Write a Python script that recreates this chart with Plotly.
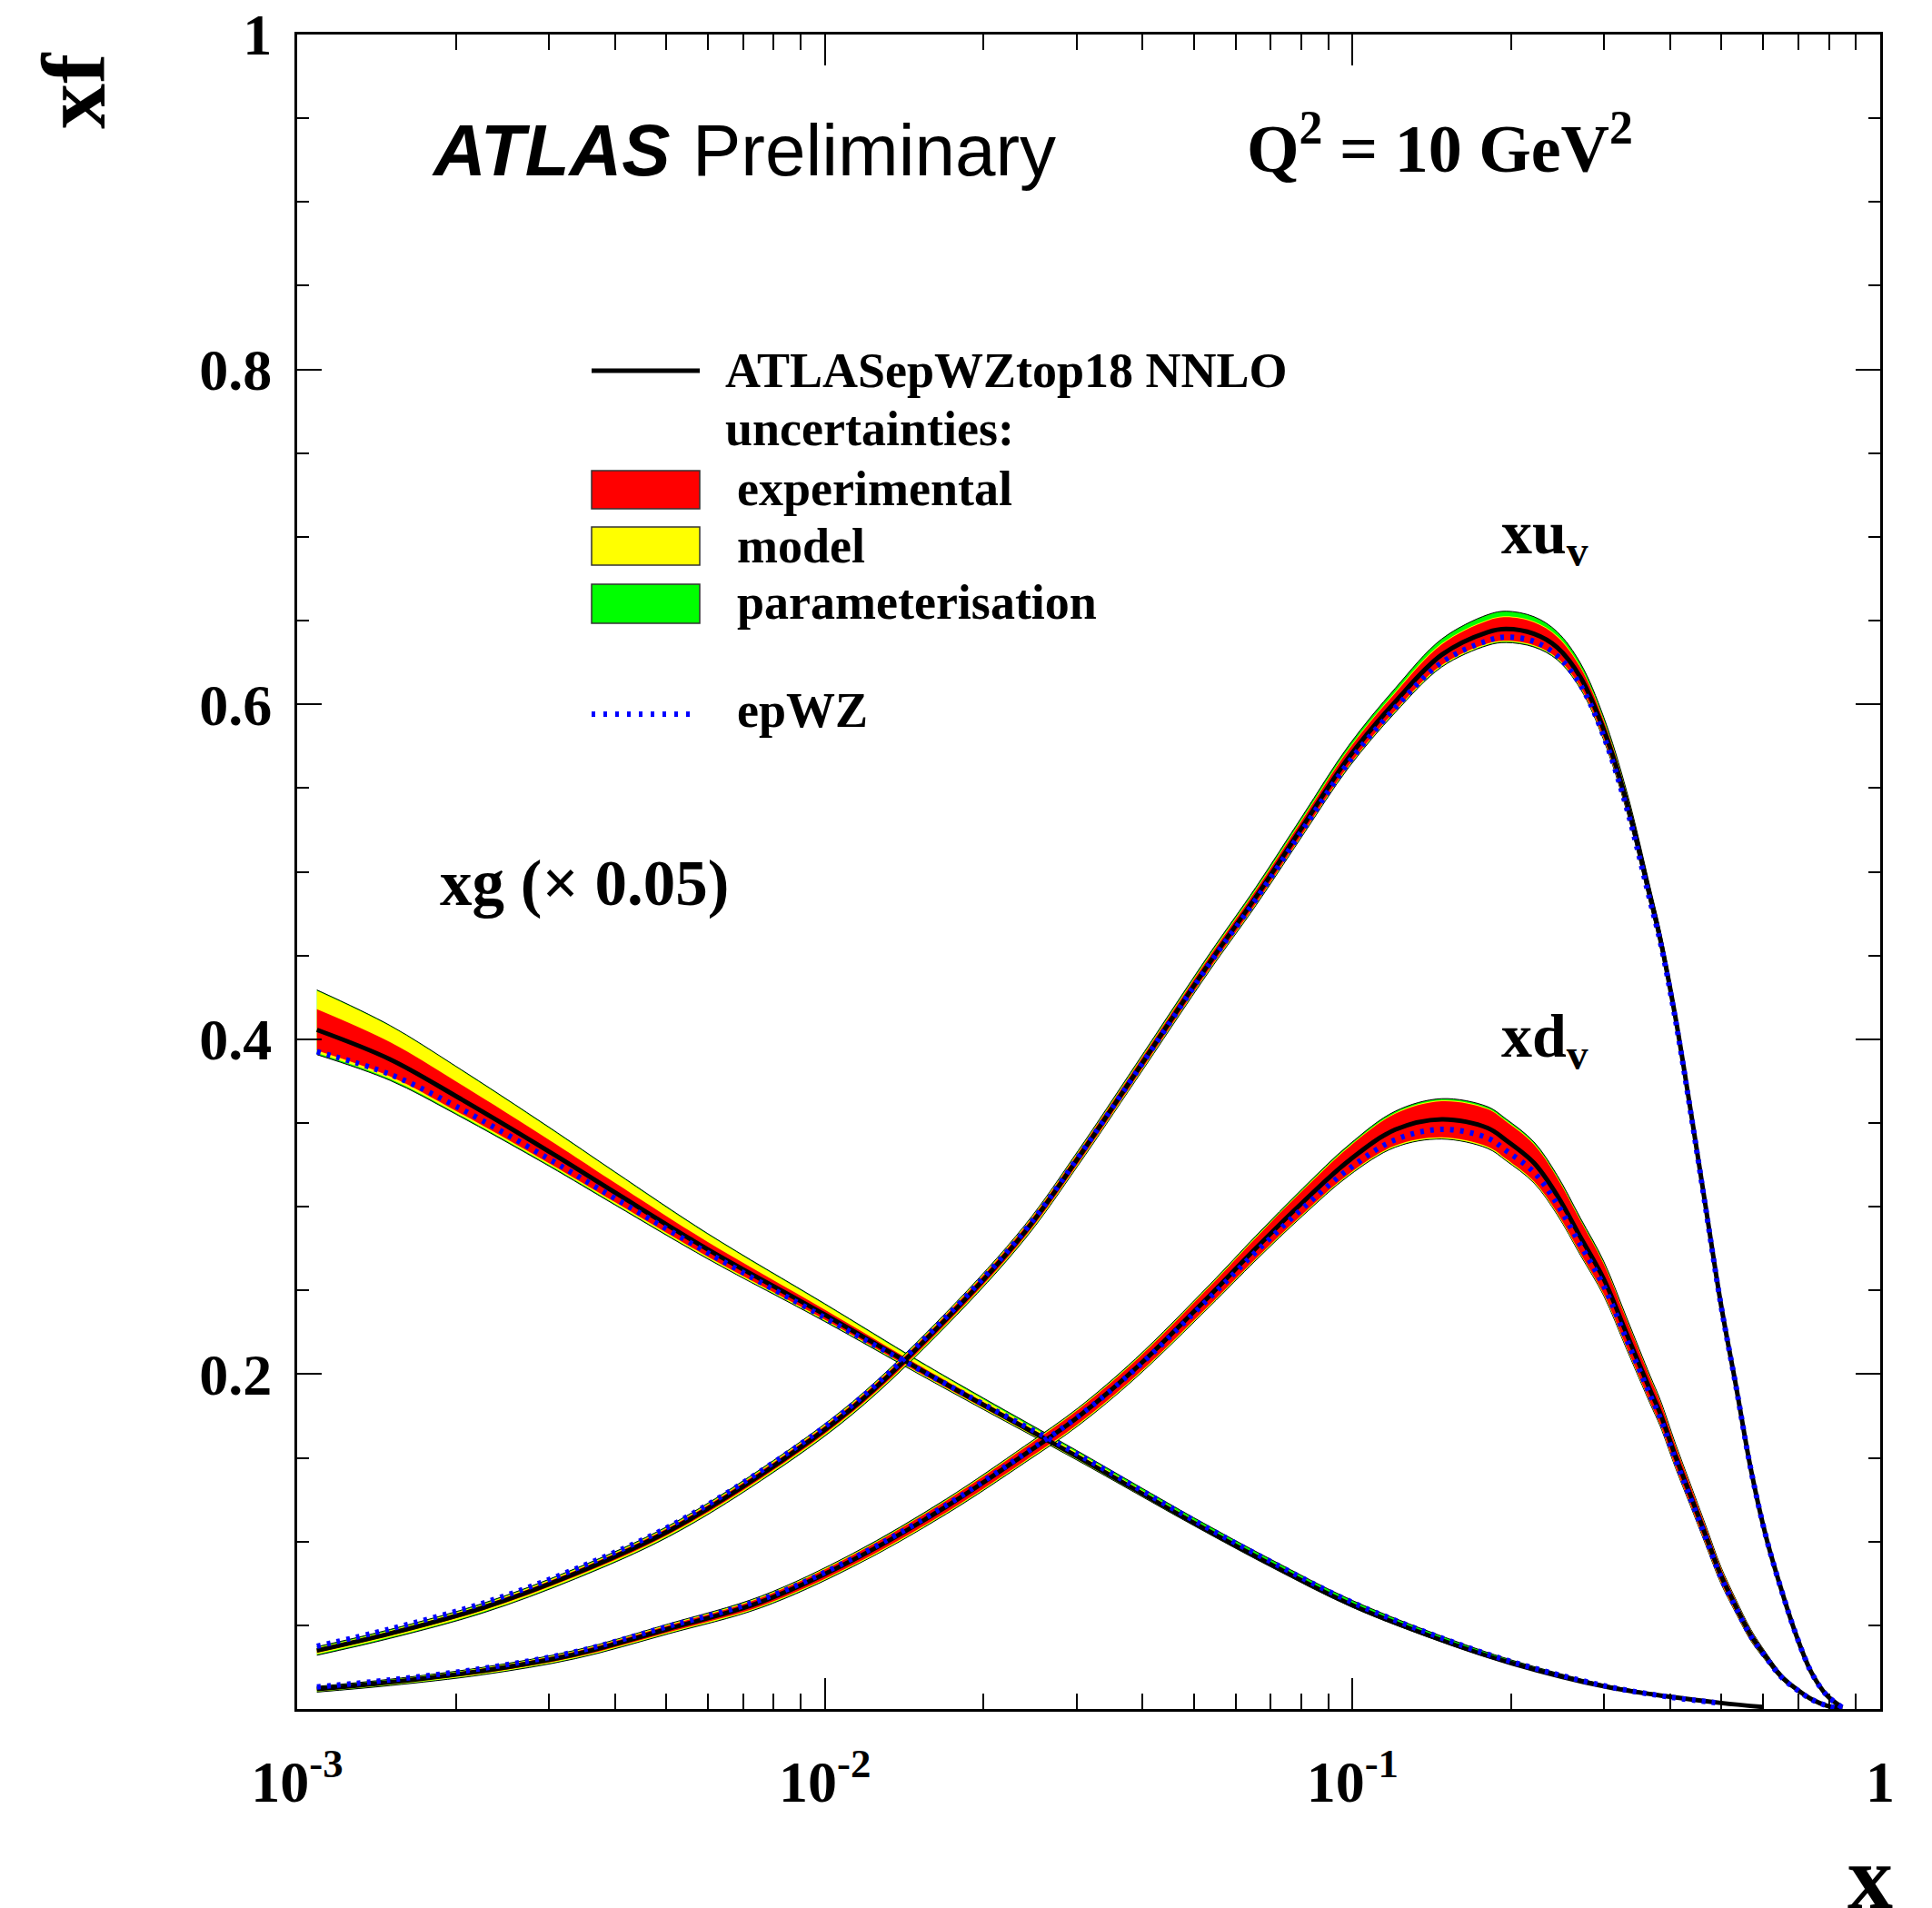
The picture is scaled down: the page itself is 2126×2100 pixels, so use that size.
import plotly.graph_objects as go

# ---------------- data ----------------
# gluon (scaled by 0.05)
xg_x = [0.00109, 0.0015, 0.002, 0.003, 0.004, 0.006, 0.01, 0.015, 0.02, 0.03,
        0.05, 0.07, 0.1, 0.15, 0.2, 0.3, 0.4, 0.5, 0.6]
xg_central = [0.4056, 0.388, 0.366, 0.333, 0.3085, 0.2745, 0.2355, 0.2035, 0.1815, 0.151,
              0.1112, 0.0864, 0.062, 0.0403, 0.0274, 0.0135, 0.0073, 0.0036, 0.0012]
xg_epwz = [0.3926, 0.379, 0.360, 0.3285, 0.305, 0.2725, 0.2337, 0.2032, 0.182, 0.1525,
           0.1127, 0.088, 0.0636, 0.0416, 0.0283, 0.0139, 0.0071, 0.0034, None]
xg_exp = [0.0123, 0.0102, 0.0088, 0.0070, 0.0058, 0.0044, 0.0030, 0.0022, 0.0018, 0.0014,
          0.0010, 0.0009, 0.0008, 0.0006, 0.0005, 0.0003, 0.0002, 0.0001, 0.0001]
xg_mod_up = [0.0110, 0.0095, 0.0085, 0.0070, 0.0060, 0.0045, 0.0030, 0.0020, 0.0015, 0.0010,
             0.0006, 0.0005, 0.0004, 0.0003, 0.0002, 0.0001, 0.0001, 0.0, 0.0]
xg_mod_dn = [0.0015, 0.0015, 0.0012, 0.0010, 0.0010, 0.0008, 0.0006, 0.0005, 0.0005, 0.0004,
             0.0003, 0.0003, 0.0002, 0.0002, 0.0001, 0.0001, 0.0, 0.0, 0.0]
xg_par_up = [0.0005, 0.0005, 0.0005, 0.0005, 0.0005, 0.0005, 0.0005, 0.0006, 0.0008, 0.0010,
             0.0015, 0.0016, 0.0016, 0.0015, 0.0012, 0.0008, 0.0004, 0.0002, 0.0001]
xg_par_dn = [0.0010, 0.0009, 0.0008, 0.0007, 0.0006, 0.0005, 0.0005, 0.0004, 0.0004, 0.0004,
             0.0003, 0.0003, 0.0003, 0.0002, 0.0002, 0.0001, 0.0001, 0.0, 0.0]

# valence quarks
xv_x = [0.00109, 0.0015, 0.00225, 0.00337, 0.00505, 0.00757, 0.0113, 0.017, 0.0239, 0.0302,
        0.0388, 0.0536, 0.0656, 0.0804, 0.0984, 0.1205, 0.1476, 0.1803, 0.1954, 0.2208,
        0.2443, 0.2704, 0.2992, 0.3311, 0.3664, 0.3828, 0.4093, 0.4365, 0.4667, 0.4989,
        0.5333, 0.5689, 0.6081, 0.6501, 0.6934, 0.7413, 0.7925, 0.8472]

xuv_central = [0.0349, 0.0451, 0.0605, 0.081, 0.1062, 0.140, 0.180, 0.233, 0.2846, 0.329,
               0.3798, 0.4458, 0.485, 0.527, 0.5683, 0.6015, 0.6296, 0.6431, 0.645, 0.6421,
               0.634, 0.6161, 0.585, 0.5413, 0.4852, 0.4602, 0.4129, 0.359, 0.3004, 0.242,
               0.1925, 0.143, 0.1025, 0.071, 0.044, 0.0216, 0.0081, 0.001]
xuv_epwz = [0.0375, 0.0478, 0.0632, 0.0837, 0.1087, 0.1422, 0.1818, 0.2343, 0.2855, 0.3295,
            0.3795, 0.445, 0.4835, 0.525, 0.5655, 0.598, 0.625, 0.638, 0.6402, 0.6375,
            0.629, 0.6115, 0.581, 0.5375, 0.4825, 0.4585, 0.4115, 0.358, 0.2995, 0.2415,
            0.1922, 0.1428, 0.1024, 0.0709, 0.044, 0.0216, 0.0081, 0.001]
xuv_exp = [0.0012, 0.0013, 0.0015, 0.0018, 0.0020, 0.0023, 0.0025, 0.0028, 0.0030, 0.0032,
           0.0034, 0.0037, 0.0040, 0.0043, 0.0048, 0.0053, 0.0062, 0.0068, 0.0070, 0.0068,
           0.0063, 0.0058, 0.0052, 0.0046, 0.0040, 0.0037, 0.0034, 0.0030, 0.0026, 0.0022,
           0.0018, 0.0014, 0.0010, 0.0007, 0.0004, 0.0002, 0.0001, 0.0]
xuv_mod_up = [0.0006, 0.0006, 0.0006, 0.0006, 0.0006, 0.0006, 0.0006, 0.0006, 0.0006, 0.0006,
              0.0006, 0.0006, 0.0006, 0.0006, 0.0006, 0.0006, 0.0006, 0.0006, 0.0006, 0.0006,
              0.0006, 0.0006, 0.0006, 0.0005, 0.0005, 0.0005, 0.0005, 0.0005, 0.0004, 0.0004,
              0.0003, 0.0003, 0.0002, 0.0002, 0.0001, 0.0001, 0.0, 0.0]
xuv_mod_dn = [0.0010, 0.0010, 0.0010, 0.0009, 0.0009, 0.0008, 0.0008, 0.0007, 0.0007, 0.0006,
              0.0006, 0.0006, 0.0006, 0.0006, 0.0006, 0.0006, 0.0006, 0.0006, 0.0006, 0.0006,
              0.0006, 0.0006, 0.0006, 0.0005, 0.0005, 0.0005, 0.0005, 0.0005, 0.0004, 0.0004,
              0.0003, 0.0003, 0.0002, 0.0002, 0.0001, 0.0001, 0.0, 0.0]
xuv_par_up = [0.0005, 0.0005, 0.0005, 0.0005, 0.0005, 0.0005, 0.0005, 0.0005, 0.0005, 0.0006,
              0.0008, 0.0010, 0.0012, 0.0015, 0.0018, 0.0022, 0.0026, 0.0030, 0.0030, 0.0028,
              0.0024, 0.0020, 0.0016, 0.0012, 0.0010, 0.0008, 0.0007, 0.0006, 0.0005, 0.0004,
              0.0003, 0.0003, 0.0002, 0.0002, 0.0001, 0.0001, 0.0, 0.0]
xuv_par_dn = [0.0006, 0.0006, 0.0006, 0.0005, 0.0005, 0.0005, 0.0005, 0.0005, 0.0005, 0.0005,
              0.0005, 0.0005, 0.0005, 0.0005, 0.0005, 0.0005, 0.0005, 0.0005, 0.0005, 0.0005,
              0.0005, 0.0005, 0.0005, 0.0004, 0.0004, 0.0004, 0.0004, 0.0004, 0.0003, 0.0003,
              0.0003, 0.0002, 0.0002, 0.0001, 0.0001, 0.0001, 0.0, 0.0]

xdv_central = [0.0119, 0.016, 0.0228, 0.0327, 0.0479, 0.064, 0.089, 0.121, 0.152, 0.1745,
               0.2034, 0.2468, 0.2752, 0.3025, 0.3275, 0.346, 0.3522, 0.347, 0.3397, 0.3261,
               0.3067, 0.2818, 0.2569, 0.2237, 0.1905, 0.1767, 0.151, 0.128, 0.104, 0.080,
               0.061, 0.044, 0.031, 0.0193, 0.012, 0.0058, 0.002, 0.0003]
xdv_epwz = [0.0132, 0.0174, 0.0243, 0.0342, 0.0494, 0.0653, 0.090, 0.1218, 0.1525, 0.1747,
            0.2031, 0.2456, 0.2730, 0.2990, 0.3225, 0.340, 0.3462, 0.341, 0.3335, 0.3205,
            0.3015, 0.2772, 0.2528, 0.2202, 0.1875, 0.174, 0.149, 0.1262, 0.1025, 0.0788,
            0.0602, 0.0434, 0.0306, 0.019, 0.0118, 0.0057, 0.002, 0.0003]
xdv_exp = [0.0008, 0.0010, 0.0013, 0.0016, 0.0020, 0.0025, 0.0030, 0.0035, 0.0040, 0.0043,
           0.0047, 0.0055, 0.0062, 0.0070, 0.0080, 0.0095, 0.0108, 0.0112, 0.0112, 0.0110,
           0.0105, 0.0098, 0.0090, 0.0082, 0.0072, 0.0068, 0.0062, 0.0056, 0.0050, 0.0042,
           0.0035, 0.0028, 0.0020, 0.0014, 0.0009, 0.0005, 0.0002, 0.0001]
xdv_mod_up = [0.0004, 0.0004, 0.0004, 0.0004, 0.0005, 0.0005, 0.0005, 0.0005, 0.0005, 0.0005,
              0.0005, 0.0005, 0.0005, 0.0005, 0.0005, 0.0005, 0.0005, 0.0005, 0.0005, 0.0005,
              0.0005, 0.0005, 0.0005, 0.0005, 0.0005, 0.0005, 0.0005, 0.0004, 0.0004, 0.0004,
              0.0003, 0.0003, 0.0002, 0.0002, 0.0001, 0.0001, 0.0, 0.0]
xdv_mod_dn = [0.0006, 0.0006, 0.0006, 0.0006, 0.0006, 0.0006, 0.0006, 0.0006, 0.0006, 0.0006,
              0.0006, 0.0006, 0.0006, 0.0006, 0.0006, 0.0006, 0.0006, 0.0006, 0.0006, 0.0006,
              0.0006, 0.0006, 0.0006, 0.0006, 0.0005, 0.0005, 0.0005, 0.0004, 0.0004, 0.0004,
              0.0003, 0.0003, 0.0002, 0.0002, 0.0001, 0.0001, 0.0, 0.0]
xdv_par_up = [0.0004, 0.0004, 0.0004, 0.0004, 0.0004, 0.0004, 0.0004, 0.0005, 0.0005, 0.0005,
              0.0006, 0.0006, 0.0007, 0.0008, 0.0009, 0.0010, 0.0010, 0.0010, 0.0010, 0.0010,
              0.0010, 0.0010, 0.0010, 0.0009, 0.0008, 0.0008, 0.0007, 0.0006, 0.0005, 0.0004,
              0.0003, 0.0003, 0.0002, 0.0002, 0.0001, 0.0001, 0.0, 0.0]
xdv_par_dn = [0.0004, 0.0004, 0.0004, 0.0004, 0.0004, 0.0004, 0.0004, 0.0004, 0.0004, 0.0004,
              0.0004, 0.0004, 0.0004, 0.0004, 0.0004, 0.0004, 0.0004, 0.0004, 0.0004, 0.0004,
              0.0004, 0.0004, 0.0004, 0.0004, 0.0004, 0.0004, 0.0003, 0.0003, 0.0003, 0.0003,
              0.0002, 0.0002, 0.0002, 0.0001, 0.0001, 0.0001, 0.0, 0.0]

x_tick_vals = [0.001, 0.01, 0.1, 1]
x_tick_text = ['10<sup>-3</sup>', '10<sup>-2</sup>', '10<sup>-1</sup>', '1']
x_minor_vals = [m * d for d in (0.001, 0.01, 0.1) for m in range(2, 10)]
y_tick_vals = [0.2, 0.4, 0.6, 0.8, 1.0]
y_tick_text = ['0.2', '0.4', '0.6', '0.8', '1']
y_minor_vals = [round(0.05 * i, 2) for i in range(1, 20) if i % 4 != 0]

# ---------------- layout geometry (pixels) ----------------
W, H = 2126, 2100
ML, MR, MT, MB = 327, 57, 38, 219
PW = W - ML - MR
PH = H - MT - MB


def px(x):
    return (x - ML) / PW


def py(y):
    return (H - MB - y) / PH


RED = '#ff0000'
YEL = '#ffff00'
GRN = '#00ff00'
BLUE = '#0000ff'
SERIF = 'Liberation Serif'
SANS = 'Liberation Sans'

fig = go.Figure()


def add_band(xs, lo, hi, col, edge):
    lw = 1 if edge else 0
    lc = 'black' if edge else col
    fig.add_trace(go.Scatter(x=xs, y=lo, mode='lines',
                             line=dict(color=lc, width=lw, shape='spline', smoothing=1),
                             hoverinfo='skip', showlegend=False))
    fig.add_trace(go.Scatter(x=xs, y=hi, mode='lines', fill='tonexty', fillcolor=col,
                             line=dict(color=lc, width=lw, shape='spline', smoothing=1),
                             hoverinfo='skip', showlegend=False))


def add_bands(xs, c, e, mu, md, pu, pd):
    exp_hi = [a + b for a, b in zip(c, e)]
    exp_lo = [a - b for a, b in zip(c, e)]
    mod_hi = [a + b for a, b in zip(exp_hi, mu)]
    mod_lo = [a - b for a, b in zip(exp_lo, md)]
    tot_hi = [a + b for a, b in zip(mod_hi, pu)]
    tot_lo = [a - b for a, b in zip(mod_lo, pd)]
    add_band(xs, tot_lo, tot_hi, GRN, True)
    add_band(xs, mod_lo, mod_hi, YEL, False)
    add_band(xs, exp_lo, exp_hi, RED, False)


add_bands(xg_x, xg_central, xg_exp, xg_mod_up, xg_mod_dn, xg_par_up, xg_par_dn)
add_bands(xv_x, xuv_central, xuv_exp, xuv_mod_up, xuv_mod_dn, xuv_par_up, xuv_par_dn)
add_bands(xv_x, xdv_central, xdv_exp, xdv_mod_up, xdv_mod_dn, xdv_par_up, xdv_par_dn)

for xs, ys in ((xg_x, xg_central), (xv_x, xuv_central), (xv_x, xdv_central)):
    fig.add_trace(go.Scatter(x=xs, y=ys, mode='lines',
                             line=dict(color='black', width=5, shape='spline', smoothing=1),
                             hoverinfo='skip', showlegend=False))

for xs, ys in ((xg_x, xg_epwz), (xv_x, xuv_epwz), (xv_x, xdv_epwz)):
    fig.add_trace(go.Scatter(x=xs, y=ys, mode='lines',
                             line=dict(color=BLUE, width=6, dash='4px,7px',
                                       shape='spline', smoothing=1),
                             hoverinfo='skip', showlegend=False, connectgaps=False))

# ---------------- legend (drawn by hand like the original) ----------------
shapes = []
shapes.append(dict(type='line', xref='paper', yref='paper',
                   x0=px(651), x1=px(770), y0=py(408), y1=py(408),
                   line=dict(color='black', width=5)))
for (y0, y1, col) in ((518, 560, RED), (580, 622, YEL), (643, 686, GRN)):
    shapes.append(dict(type='rect', xref='paper', yref='paper',
                       x0=px(651), x1=px(770), y0=py(y1), y1=py(y0),
                       fillcolor=col, line=dict(color='#333333', width=1.5)))
shapes.append(dict(type='line', xref='paper', yref='paper',
                   x0=px(651), x1=px(766), y0=py(786), y1=py(786),
                   line=dict(color=BLUE, width=6, dash='4px,9px')))

ann = []


def text(x, y, s, size, family=SERIF, xanchor='left', yanchor='middle', angle=0):
    ann.append(dict(x=px(x), y=py(y), xref='paper', yref='paper', text=s,
                    showarrow=False, xanchor=xanchor, yanchor=yanchor,
                    textangle=angle,
                    font=dict(family=family, size=size, color='black')))


text(796, 408, '<b>ATLASepWZtop18 NNLO</b>', 54)
text(796, 472, '<b>uncertainties:</b>', 54)
text(809, 538, '<b>experimental</b>', 54)
text(809, 601, '<b>model</b>', 54)
text(809, 663, '<b>parameterisation</b>', 54)
text(809, 782, '<b>epWZ</b>', 54)

text(473, 166, '<b><i>ATLAS</i></b>', 80, family=SANS)
text(760, 166, 'Preliminary', 80, family=SANS)
text(1370, 158, '<b>Q<sup>2</sup> = 10 GeV<sup>2</sup></b>', 74)
text(482, 972, '<b>xg (× 0.05)</b>', 71)
text(1650, 590, '<b>xu<sub>v</sub></b>', 68)
text(1650, 1144, '<b>xd<sub>v</sub></b>', 68)

text(82, 100, '<b>xf</b>', 100, xanchor='center', angle=-90)
text(2058, 2066, '<b>x</b>', 100, xanchor='center')

axis_common = dict(showline=True, linecolor='black', linewidth=3, mirror='ticks',
                   ticks='inside', tickcolor='black', tickwidth=2,
                   showgrid=False, zeroline=False, automargin=False,
                   tickfont=dict(family=SERIF, size=64, color='black', weight='bold'))

fig.update_layout(
    width=W, height=H,
    margin=dict(l=ML, r=MR, t=MT, b=MB, pad=0, autoexpand=False),
    paper_bgcolor='white', plot_bgcolor='white',
    showlegend=False,
    xaxis=dict(type='log', range=[-3, 0], tickvals=x_tick_vals, ticktext=x_tick_text,
               ticklen=34, ticklabelstandoff=22,
               minor=dict(tickvals=x_minor_vals, ticks='inside', ticklen=17,
                          tickwidth=2, tickcolor='black', showgrid=False),
               **axis_common),
    yaxis=dict(range=[0, 1], tickvals=y_tick_vals, ticktext=y_tick_text,
               ticklen=27, ticklabelstandoff=12,
               minor=dict(tickvals=y_minor_vals, ticks='inside', ticklen=13,
                          tickwidth=2, tickcolor='black', showgrid=False),
               **axis_common),
    shapes=shapes,
    annotations=ann,
)

fig.write_html('out.html')
